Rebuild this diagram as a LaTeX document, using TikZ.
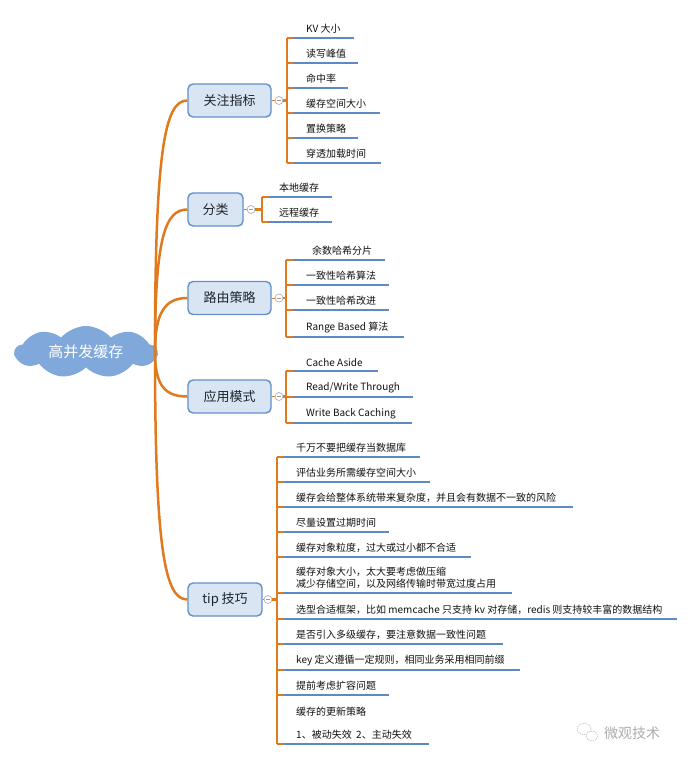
\documentclass[tikz,border=0pt]{standalone}
\usepackage{fontspec}
\setmainfont{Noto Sans CJK SC}
\usetikzlibrary{shapes.symbols}
\definecolor{orng}{HTML}{DF7A1E}
\definecolor{uline}{HTML}{5E8AC4}
\definecolor{boxfill}{HTML}{DAE5F3}
\definecolor{boxline}{HTML}{6190CA}
\definecolor{cloudfill}{HTML}{80A8DB}
\definecolor{txt}{HTML}{111111}
\tikzset{
  rootcloud/.style={cloud, cloud puffs=9, cloud puff arc=100, aspect=3.0, fill=cloudfill, draw=none,
    minimum width=142, minimum height=52, inner sep=0pt, text=white, font=\fontsize{15}{18}\selectfont},
  catbox/.style={rectangle, rounded corners=5, fill=boxfill, draw=boxline, line width=1.4,
    minimum height=33, inner sep=0pt, text=txt!85!boxline, font=\fontsize{13}{15}\selectfont},
  collapse/.style={circle, draw=gray!70, fill=white, line width=0.6, minimum size=8, inner sep=0pt,
    path picture={\draw[gray!80, line width=0.6] ([xshift=-2.2]path picture bounding box.center) -- ([xshift=2.2]path picture bounding box.center);}},
  orangeline/.style={draw=orng, line width=2.7},
  orangecurve/.style={draw=orng, line width=2.5},
  blueline/.style={draw=uline, line width=2.8},
  thinlink/.style={draw=orng!70!gray, line width=0.8},
  itemtext/.style={inner sep=0pt, text=txt, font=\fontsize{10}{12}\selectfont, align=left},
}
% name, bar x, underline y, end x, text x, text
\newcommand\mmitem[6]{%
  \coordinate (#1s) at (#2,#3);
  \coordinate (#1b) at (#2+7,#3);
  \coordinate (#1e) at (#4,#3);
  \node[itemtext, anchor=south west] (#1) at (#5,#3-4) {#6};
  \draw[orangeline] (#1s) -- (#1b);
  \draw[blueline] (#1b) -- (#1e);
}
\begin{document}
\begin{tikzpicture}[x=1pt,y=-1pt]
\path[use as bounding box] (0,0) rectangle (695,761);
\fill[white] (0,0) rectangle (695,761);

% root
\node[rootcloud] (root) at (86,352) {高并发缓存};

% categories
\node[catbox, minimum width=83] (c1) at (229.5,100.5) {关注指标};
\node[catbox, minimum width=55] (c2) at (215.5,209.5) {分类};
\node[catbox, minimum width=83] (c3) at (229.5,298) {路由策略};
\node[catbox, minimum width=83] (c4) at (229.5,396.5) {应用模式};
\node[catbox, minimum width=74] (c5) at (225,599.5) {tip 技巧};

% curves root -> categories
\coordinate (rr) at (155,352);
\draw[orangecurve] (rr) .. controls +(0,-205) and +(-22,0) .. (c1.west);
\draw[orangecurve] (rr) .. controls +(0,-115) and +(-22,0) .. (c2.west);
\draw[orangecurve] (rr) .. controls +(0,-40) and +(-22,0) .. (c3.west);
\draw[orangecurve] (rr) .. controls +(0,34) and +(-22,0) .. (c4.west);
\draw[orangecurve] (rr) .. controls +(0,200) and +(-22,0) .. (c5.west);

% ---------- 关注指标 ----------
\mmitem{a1}{287}{38}{354}{306}{KV 大小}
\mmitem{a2}{287}{63}{358}{306}{读写峰值}
\mmitem{a3}{287}{88}{348}{306}{命中率}
\mmitem{a4}{287}{113}{380}{306}{缓存空间大小}
\mmitem{a5}{287}{138}{358}{306}{置换策略}
\mmitem{a6}{287}{163}{381}{306}{穿透加载时间}
\draw[orangeline] (a1s) -- (a6s);
\node[collapse] (k1) at (279,100.5) {};
\coordinate (j1) at (287,100.5);
\draw[thinlink] (c1.east) -- (k1);
\draw[orangeline] (k1) -- (j1);

% ---------- 分类 ----------
\mmitem{b1}{262}{197}{332}{279}{本地缓存}
\mmitem{b2}{262}{222}{332}{279}{远程缓存}
\draw[orangeline] (b1s) -- (b2s);
\node[collapse] (k2) at (251,209.5) {};
\coordinate (j2) at (262,209.5);
\draw[thinlink] (c2.east) -- (k2);
\draw[orangeline] (k2) -- (j2);

% ---------- 路由策略 ----------
\mmitem{r1}{286}{260}{385}{312}{余数哈希分片}
\mmitem{r2}{286}{285}{389}{306}{一致性哈希算法}
\mmitem{r3}{286}{310}{389}{306}{一致性哈希改进}
\mmitem{r4}{286}{337}{404}{306}{Range Based 算法}
\draw[orangeline] (r1s) -- (r4s);
\node[collapse] (k3) at (279,298) {};
\coordinate (j3) at (286,298);
\draw[thinlink] (c3.east) -- (k3);
\draw[orangeline] (k3) -- (j3);

% ---------- 应用模式 ----------
\mmitem{m1}{286}{371}{378}{306}{Cache Aside}
\mmitem{m2}{286}{397}{413}{306}{Read/Write Through}
\mmitem{m3}{286}{423}{412}{306}{Write Back Caching}
\draw[orangeline] (m1s) -- (m3s);
\node[collapse] (k4) at (279,396.5) {};
\coordinate (j4) at (286,396.5);
\draw[thinlink] (c4.east) -- (k4);
\draw[orangeline] (k4) -- (j4);

% ---------- tip 技巧 ----------
\mmitem{t1}{277}{457}{420}{296}{千万不要把缓存当数据库}
\mmitem{t2}{277}{482}{430}{296}{评估业务所需缓存空间大小}
\mmitem{t3}{277}{507}{573}{296}{缓存会给整体系统带来复杂度，并且会有数据不一致的风险}
\mmitem{t4}{277}{532}{389}{296}{尽量设置过期时间}
\mmitem{t5}{277}{557}{471}{296}{缓存对象粒度，过大或过小都不合适}
\mmitem{t6}{277}{593}{512}{296}{缓存对象大小，太大要考虑做压缩\\减少存储空间，以及网络传输时带宽过度占用}
\mmitem{t7}{277}{619}{677}{296}{选型合适框架，比如 memcache 只支持 kv 对存储，redis 则支持较丰富的数据结构}
\mmitem{t8}{277}{644}{503}{296}{是否引入多级缓存，要注意数据一致性问题}
\mmitem{t9}{277}{670}{520}{296}{key 定义遵循一定规则，相同业务采用相同前缀}
\mmitem{t10}{277}{695}{389}{296}{提前考虑扩容问题}
\mmitem{t11}{277}{744}{429}{296}{缓存的更新策略\\[11pt]1、被动失效\ \ 2、主动失效}
\draw[orangeline] (t1s) -- (t11s);
\node[collapse] (k5) at (268,599.5) {};
\coordinate (j5) at (277,599.5);
\draw[thinlink] (c5.east) -- (k5);
\draw[orangeline] (k5) -- (j5);

% watermark
\node[inner sep=0pt, text=gray!65, font=\fontsize{14}{16}\selectfont, anchor=west] (wm) at (604,733) {微观技术};
\draw[gray!55, line width=0.6, dash pattern=on 1.2pt off 1pt] (584,729) ellipse [x radius=7, y radius=5.5];
\draw[gray!55, line width=0.6, dash pattern=on 1.2pt off 1pt, fill=white] (592,736) ellipse [x radius=6, y radius=4.8];
\end{tikzpicture}
\end{document}
